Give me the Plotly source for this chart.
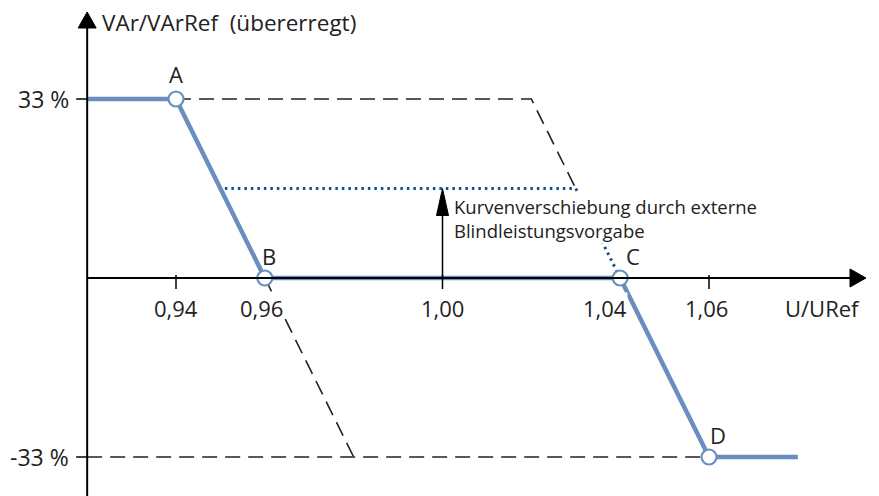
import plotly.graph_objects as go

# ---------------- data ----------------
x_ticks = [0.94, 0.96, 1.00, 1.04, 1.06]
x_tick_labels = ["0,94", "0,96", "1,00", "1,04", "1,06"]
y_ticks = [33, -33]
y_tick_labels = ["33 %", "-33 %"]

# main characteristic (solid blue)
main_u = [0.92, 0.94, 0.96, 1.04, 1.06, 1.08]
main_q = [33, 33, 0, 0, -33, -33]

# characteristic points
pt_names = ["A", "B", "C", "D"]
pt_u = [0.94, 0.96, 1.04, 1.06]
pt_q = [33, 0, 0, -33]

# shifted characteristics (dashed)
upper_dash_u = [0.94, 1.02, 1.03]
upper_dash_q = [33, 33, 16.5]
lower_dash_u = [0.92, 1.06]
lower_dash_q = [-33, -33]
lower_slope_u = [0.96, 0.98]
lower_slope_q = [0, -33]

# shifted curve (dotted)
dot_u = [0.951, 1.03, 1.04]
dot_q = [16.5, 16.5, 0]

# shift arrow
shift_u = 1.00
shift_from = 0
shift_to = 16.5

x_title = "U/URef"
y_title = "VAr/VArRef  (übererregt)"
shift_text = "Kurvenverschiebung durch externe<br>Blindleistungsvorgabe"

# ---------------- layout helpers ----------------
# page body has an 8px margin: figure pixel p sits at page pixel p+8
PAD = 8
W, H = 879 - PAD, 496 - PAD
PX_PER_U = 4441.7      # px per unit of U/URef (reference scale)
PX_PER_Q = 358 / 66    # px per % (reference scale)


def u_at(px):
    return 0.94 + (px - 176) / PX_PER_U


def q_at(py):
    return (278 - py) / PX_PER_Q


X0, X1 = u_at(PAD), u_at(879)
Y0, Y1 = q_at(496), q_at(PAD)
ux = 1 / PX_PER_U
uy = 1 / PX_PER_Q

TXT = "#222222"
BLUE = "#6a8fbf"
DBLUE = "#0f528a"
FONT = "Open Sans"

fig = go.Figure()

# dashed shifted curves
for xs, ys in [(upper_dash_u, upper_dash_q), (lower_dash_u, lower_dash_q), (lower_slope_u, lower_slope_q)]:
    fig.add_trace(go.Scatter(x=xs, y=ys, mode="lines",
                             line=dict(color="#222222", width=1.6, dash="15px,8px"),
                             hoverinfo="skip", showlegend=False))

# dotted shifted curve
fig.add_trace(go.Scatter(x=dot_u, y=dot_q, mode="lines",
                         line=dict(color=DBLUE, width=3, dash="2.5px,4px"),
                         hoverinfo="skip", showlegend=False))

# axes lines
x_axis_start = main_u[0]
x_axis_end = u_at(866)
y_axis_top = q_at(12)
fig.add_shape(type="line", x0=x_axis_start, x1=x_axis_end - 10 * ux, y0=0, y1=0,
              line=dict(color="black", width=2))
fig.add_shape(type="line", x0=x_axis_start, x1=x_axis_start, y0=Y0, y1=y_axis_top - 10 * uy,
              line=dict(color="black", width=2))
# arrow heads of axes
fig.add_trace(go.Scatter(
    x=[x_axis_end, x_axis_end - 16 * ux, x_axis_end - 16 * ux, x_axis_end],
    y=[0, 9 * uy, -9 * uy, 0], mode="lines", fill="toself",
    fillcolor="black", line=dict(color="black", width=1), hoverinfo="skip", showlegend=False))
fig.add_trace(go.Scatter(
    x=[x_axis_start, x_axis_start - 9 * ux, x_axis_start + 9 * ux, x_axis_start],
    y=[y_axis_top, y_axis_top - 16 * uy, y_axis_top - 16 * uy, y_axis_top], mode="lines", fill="toself",
    fillcolor="black", line=dict(color="black", width=1), hoverinfo="skip", showlegend=False))

# ticks (not drawn where a characteristic point sits on the axis)
for t in x_ticks:
    if any(abs(t - u) < 1e-9 and q == 0 for u, q in zip(pt_u, pt_q)):
        continue
    fig.add_shape(type="line", x0=t, x1=t, y0=3 * uy, y1=-11 * uy, line=dict(color="black", width=1.5))
for t in y_ticks:
    fig.add_shape(type="line", x0=x_axis_start - 11 * ux, x1=x_axis_start, y0=t, y1=t,
                  line=dict(color="black", width=1.5))

# shift arrow
fig.add_shape(type="line", x0=shift_u, x1=shift_u, y0=shift_from, y1=shift_to - 20 * uy,
              line=dict(color="black", width=1.5))
fig.add_trace(go.Scatter(
    x=[shift_u, shift_u - 6 * ux, shift_u + 6 * ux, shift_u],
    y=[shift_to, shift_to - 27 * uy, shift_to - 27 * uy, shift_to], mode="lines", fill="toself",
    fillcolor="black", line=dict(color="black", width=1), hoverinfo="skip", showlegend=False))

# main line
fig.add_trace(go.Scatter(x=main_u, y=main_q, mode="lines",
                         line=dict(color=BLUE, width=4.5),
                         hoverinfo="skip", showlegend=False))
fig.add_trace(go.Scatter(x=pt_u, y=pt_q, mode="markers",
                         marker=dict(size=15, color="white", line=dict(color=BLUE, width=2.2)),
                         hoverinfo="skip", showlegend=False))

annotations = []
# point labels
offsets = {"A": (0, 25), "B": (4, 22), "C": (13, 22), "D": (9, 22)}
for n, u, q in zip(pt_names, pt_u, pt_q):
    dx, dy = offsets[n]
    annotations.append(dict(x=u, y=q, text=n, showarrow=False, xshift=dx, yshift=dy,
                            font=dict(size=22, color=TXT, family=FONT)))
# x tick labels
label_shift = {"0,96": -3, "1,04": -15, "1,06": -3}
for t, lab in zip(x_ticks, x_tick_labels):
    annotations.append(dict(x=t, y=0, text=lab, showarrow=False, yshift=-30,
                            xshift=label_shift.get(lab, 0), bgcolor="rgba(255,255,255,1)", borderpad=0,
                            font=dict(size=22, color=TXT, family=FONT)))
# y tick labels
for t, lab in zip(y_ticks, y_tick_labels):
    annotations.append(dict(x=x_axis_start, y=t, text=lab, showarrow=False, xanchor="right", xshift=-16,
                            font=dict(size=23, color=TXT, family=FONT)))
# axis titles
annotations.append(dict(x=x_axis_start, y=y_axis_top, text=y_title, showarrow=False, xanchor="left",
                        xshift=13, yshift=-10, font=dict(size=22.5, color=TXT, family=FONT)))
annotations.append(dict(x=x_axis_end, y=0, text=x_title, showarrow=False, xanchor="right",
                        xshift=-4, yshift=-30, font=dict(size=22, color=TXT, family=FONT)))
# shift text (white background hides the dotted line behind it)
annotations.append(dict(x=shift_u, y=q_at(218), text=shift_text, showarrow=False, xanchor="left",
                        yanchor="middle", align="left", xshift=10, bgcolor="white",
                        borderpad=0, font=dict(size=18.5, color=TXT, family=FONT)))

fig.update_layout(
    width=W, height=H,
    margin=dict(l=0, r=0, t=0, b=0),
    plot_bgcolor="white", paper_bgcolor="white",
    xaxis=dict(range=[X0, X1], visible=False, fixedrange=True),
    yaxis=dict(range=[Y0, Y1], visible=False, fixedrange=True),
    annotations=annotations,
    showlegend=False,
)

fig.write_html("out.html")
